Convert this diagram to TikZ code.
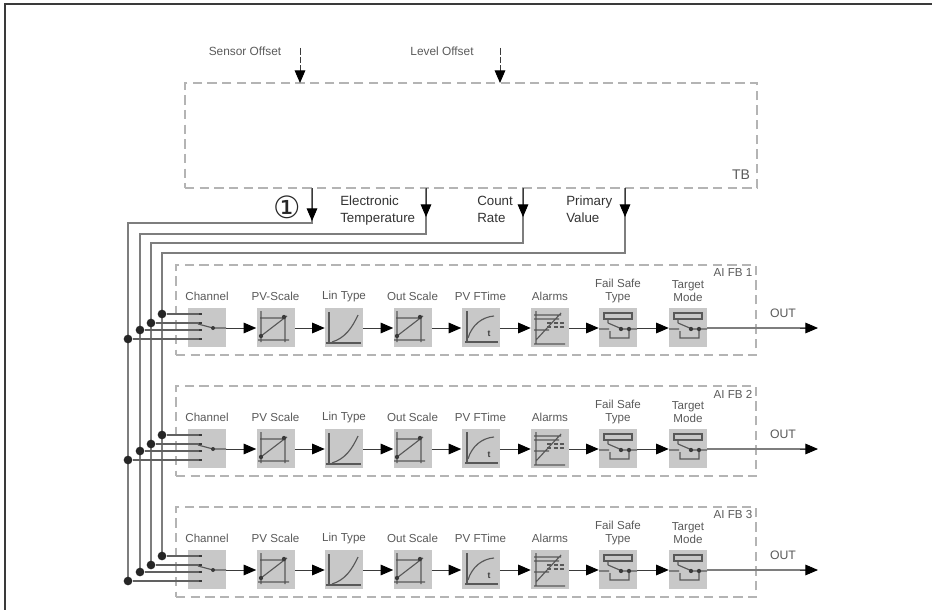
\documentclass[tikz,border=0pt]{standalone}
\usepackage{fontspec}
\setmainfont{Liberation Sans}
\newfontfamily\dejavu{DejaVu Sans}
\usetikzlibrary{arrows.meta}
\definecolor{txt}{HTML}{5A5A5A}
\definecolor{dash}{HTML}{B4B4B4}
\definecolor{boxg}{HTML}{C8C8C8}
\definecolor{ink}{HTML}{3A3A3A}
\definecolor{bus}{HTML}{7E7E7E}
\tikzset{
  tiphead/.style={-{Triangle[length=9.5pt,width=8pt,black]}},
  flow/.style={draw=ink,line width=.7pt,tiphead,shorten >=0pt},
  busline/.style={draw=bus,line width=1.1pt},
  dashbox/.style={draw=dash,line width=.9pt,dash pattern=on 7pt off 4pt,inner sep=0pt,fill=none},
  blk/.style={fill=boxg,draw=none,minimum width=28.5pt,minimum height=29pt,inner sep=0pt},
  lab/.style={font=\fontsize{8.7}{10}\selectfont,text=txt,align=center,inner sep=0pt},
  lab2/.style={font=\fontsize{10}{12.6}\selectfont,text=black!80,align=left,inner sep=0pt},
  ic/.style={draw=ink!85,line width=.85pt},
  busdot/.style={circle,fill=black!85,inner sep=0pt,minimum size=6.5pt}
}
\newcommand{\icscale}{%
  \draw[ic] (4,3)--(4,34) (3,10)--(28,10) (1,32)--(32,32) (28,10)--(28,34) (4,28)--(30,8);
  \fill[ink] (4,28) circle (1.6pt) (27,9) circle (1.6pt);}
\newcommand{\iclin}{%
  \draw[ic] (4,4)--(4,34) (1,35)--(36,35);
  \draw[ic] (7,34) .. controls (20,30) and (27,20) .. (33,7);}
\newcommand{\icftime}{%
  \draw[ic] (5,3)--(5,34) (3,34)--(36,34);
  \draw[ic] (6,30) .. controls (10,17) and (20,9) .. (32,8);
  \node[font=\bfseries\fontsize{6.5}{6.5}\selectfont,text=ink,inner sep=0pt] at (27,26) {t};}
\newcommand{\icalarm}{%
  \draw[ic] (5,3)--(5,36) (3,36)--(34,36) (3,7)--(30,7) (3,11)--(28,11) (3,22)--(18,22) (5,32)--(30,5);
  \draw[ic,densely dashed] (16,15)--(34,15) (16,19)--(34,19);}
\newcommand{\icswitch}{%
  \draw[ic] (5,5) rectangle (33,11);
  \draw[ic] (0,21)--(10,21) (9,11)--(9,15) (9,15)--(23,21) (22,21)--(38,21) (11,23)--(11,30)--(30,30)--(30,21);
  \fill[ink] (22,21) circle (1.6pt) (30,21) circle (1.6pt);}
\newcommand{\icchan}{%
  \draw[ic] (10,16)--(25,20) (25,20)--(38,20);
  \fill[ink] (25,20) circle (1.5pt);}
\begin{document}
\begin{tikzpicture}[x=.75pt,y=-.75pt]
\useasboundingbox (0,0) rectangle (932,610);
\fill[white] (0,0) rectangle (932,610);
\draw[ink,line width=1pt] (932,4)--(5,4)--(5,610);
% Transducer block
\node[dashbox,minimum width=429pt,minimum height=78.75pt] (tb) at (471,135.5) {};
\node[font=\fontsize{10.5}{12}\selectfont,text=txt,inner sep=0pt] (tblab) at (741,175) {TB};
\node[font=\fontsize{8.9}{10}\selectfont,text=txt,inner sep=0pt] (so) at (245,51) {Sensor Offset};
\node[font=\fontsize{8.9}{10}\selectfont,text=txt,inner sep=0pt] (lo) at (442,51) {Level Offset};
\coordinate (soS) at (300,48); \coordinate (soE) at (300,83);
\coordinate (loS) at (500,48); \coordinate (loE) at (500,83);
\draw[draw=ink,line width=.7pt,dash pattern=on 5pt off 1.5pt,tiphead] (soS)--(soE);
\draw[draw=ink,line width=.7pt,dash pattern=on 5pt off 1.5pt,tiphead] (loS)--(loE);
\node[font=\dejavu\fontsize{23}{23}\selectfont,text=black!85,inner sep=0pt] (one) at (287,207) {①};
\node[lab2,anchor=north west] (et) at (340,196) {Electronic\\Temperature};
\node[lab2,anchor=north west] (cr) at (477,196) {Count\\Rate};
\node[lab2,anchor=north west] (pv) at (566,196) {Primary\\Value};
% Taps
\coordinate (t1) at (312,188); \coordinate (t2) at (426,188);
\coordinate (t3) at (523,188); \coordinate (t4) at (625,188);
\draw[busline] (t1)--(312,223)--(128,223)--(128,580);
\draw[busline] (t2)--(426,234)--(140,234)--(140,571);
\draw[busline] (t3)--(523,243)--(151,243)--(151,564);
\draw[busline] (t4)--(625,253)--(162,253)--(162,556);
\draw[draw=ink,line width=.7pt,tiphead] (t1)--(312,221);
\draw[draw=ink,line width=.7pt,tiphead] (t2)--(426,217);
\draw[draw=ink,line width=.7pt,tiphead] (t3)--(523,217);
\draw[draw=ink,line width=.7pt,tiphead] (t4)--(625,217);
% Function block rows
\foreach \r/\dy/\sc/\cur in {1/0/PV-Scale/AI FB 1,2/121/PV Scale/AI FB 2,3/242/PV Scale/AI FB 3}{
  \begin{scope}[yshift=-\dy*.75pt]
    \node[dashbox,minimum width=435pt,minimum height=67.5pt] (fb\r) at (466,310) {};
    \node[font=\fontsize{8.7}{10}\selectfont,text=txt,inner sep=0pt] (fbl\r) at (733,273) {\cur};
    \foreach \n/\x/\t in {a/207/Channel,b/275.5/\sc,c/344/Lin Type,d/412.5/Out Scale,e/480.5/PV FTime,f/550/Alarms}{
      \node[blk] (\n\r) at (\x,327.5) {};
      \node[lab] (l\n\r) at (\x,296.5) {\t};
    }
    \node[blk] (g\r) at (618,327.5) {};
    \node[lab] (lg\r) at (618,291) {Fail Safe\\Type};
    \node[blk] (h\r) at (688,327.5) {};
    \node[lab] (lh\r) at (688,291) {Target\\Mode};
    \begin{scope}[shift={(188,308)}]\icchan\end{scope}
    \begin{scope}[shift={(257,308)}]\icscale\end{scope}
    \begin{scope}[shift={(325,308)}]\iclin\end{scope}
    \begin{scope}[shift={(393,308)}]\icscale\end{scope}
    \begin{scope}[shift={(462,308)}]\icftime\end{scope}
    \begin{scope}[shift={(531,308)}]\icalarm\end{scope}
    \begin{scope}[shift={(599,308)}]\icswitch\end{scope}
    \begin{scope}[shift={(669,308)}]\icswitch\end{scope}
    \foreach \p/\q in {a/b,b/c,c/d,d/e,e/f,f/g,g/h}{
      \draw[flow] (\p\r.east|-0,328)--(\q\r.west|-0,328);
    }
    \coordinate (o\r) at (818,328);
    \draw[draw=bus,line width=1.1pt] (h\r.east|-0,328)--(808,328);
    \draw[flow] (800,328)--(o\r);
    \node[lab,font=\fontsize{9.2}{10}\selectfont] (ol\r) at (783,313) {OUT};
    % Inputs
    \foreach \X/\Y/\k in {162/314/i,151/323/j,140/330/k,128/339/m}{
      \node[busdot] (\k\r) at (\X,\Y) {};
      \coordinate (\k e\r) at (201,\Y);
      \draw[busline,draw=ink!80,line width=.8pt] (\k\r)--(\k e\r);
      \fill[ink] (199,\Y-1) rectangle (202,\Y+1);
    }
  \end{scope}
}
\end{tikzpicture}
\end{document}
